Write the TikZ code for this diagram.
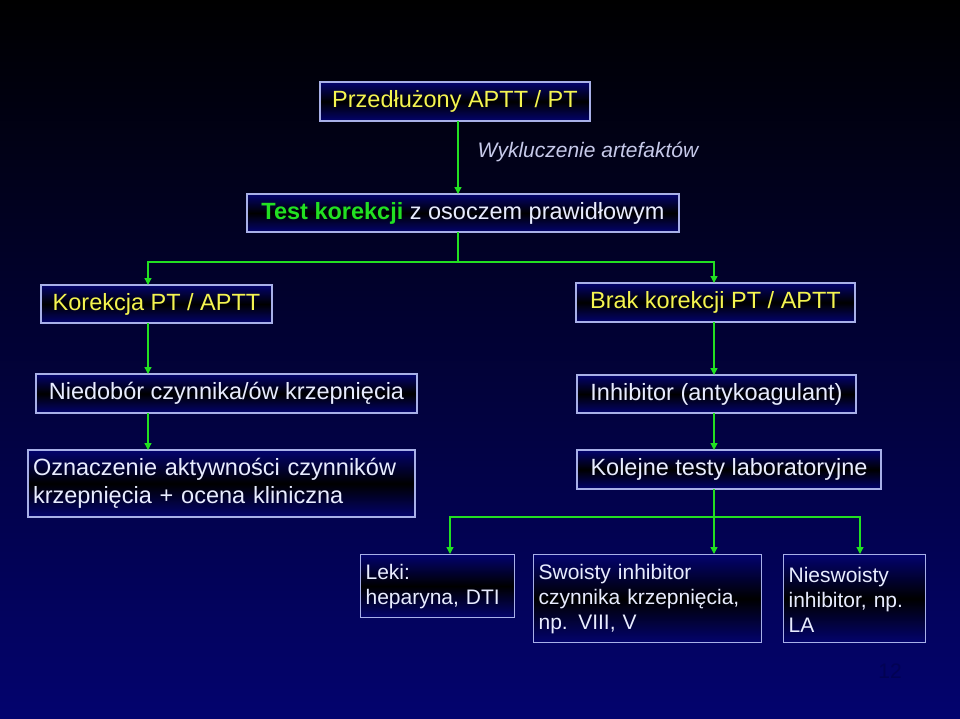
\documentclass[tikz,border=0pt]{standalone}
\usepackage{fontspec}
\setmainfont{Liberation Sans}
\usetikzlibrary{arrows.meta}
\definecolor{navy}{HTML}{03036E}
\definecolor{bord}{HTML}{A8B0E8}
\definecolor{yel}{HTML}{F4F450}
\definecolor{lt}{HTML}{E8ECFF}
\definecolor{grn}{HTML}{22E022}
\tikzset{
 bx/.style={draw=bord,line width=1.2pt,top color=navy,bottom color=navy,middle color=black,inner sep=0pt,font=\fontsize{23.5}{28}\selectfont},
 sm/.style={align=left,font=\fontsize{21}{25}\selectfont,anchor=north west},
 con/.style={draw=grn,line width=1.3pt},
 arr/.style={con,-{Triangle[length=7pt,width=7pt]}}
}
\begin{document}
\begin{tikzpicture}[x=1pt,y=-1pt]
\shade[top color=black,bottom color=navy] (0,0) rectangle (960,718);
\useasboundingbox (0,0) rectangle (960,718);
\node[bx,minimum width=270,minimum height=39,text=yel] (t) at (455,101.5) {Przedłużony APTT / PT};
\node[bx,minimum width=432,minimum height=38,text=lt] (k) at (463,213) {\textbf{\color{grn}Test korekcji} z osoczem prawidłowym};
\node[bx,minimum width=231,minimum height=38,text=yel] (a) at (156.5,304) {Korekcja PT / APTT};
\node[bx,minimum width=279,minimum height=39,text=yel] (b) at (715.5,302.5) {Brak korekcji PT / APTT};
\node[bx,minimum width=381,minimum height=39,text=lt] (n) at (226.5,393.5) {Niedobór czynnika/ów krzepnięcia};
\node[bx,minimum width=279,minimum height=38,text=lt] (i) at (716.5,394) {Inhibitor (antykoagulant)};
\node[bx,minimum width=387,minimum height=67,text=lt,align=left,text width=377] (o) at (221.5,483.5) {Oznaczenie aktywności czynników\\krzepnięcia + ocena kliniczna};
\node[bx,minimum width=304,minimum height=39,text=lt] (kl) at (729,469.5) {Kolejne testy laboratoryjne};
\node[bx,sm,minimum width=154,minimum height=63,text=lt,text width=144] (l) at (360,554) {\rule{0pt}{17pt}Leki:\\heparyna, DTI};
\node[bx,sm,minimum width=228,minimum height=88,text=lt,text width=218] (s) at (533,554) {\rule{0pt}{17pt}Swoisty inhibitor\\czynnika krzepnięcia,\\np. VIII, V};
\node[bx,sm,minimum width=142,minimum height=88,text=lt,text width=132] (w) at (783,554) {\rule{0pt}{17pt}Nieswoisty\\inhibitor, np.\\LA};
\node[text=lt!85!navy,font=\fontsize{21}{24}\selectfont\itshape] (lab) at (588,152) {Wykluczenie artefaktów};
\node[text=navy!75!black,font=\fontsize{21}{24}\selectfont] (pg) at (890,671) {12};
\coordinate (j1) at (458,262);
\coordinate (j2) at (714,517);
\draw[arr] (458,121) -- (458,194);
\draw[con] (458,232) -- (j1);
\draw[arr] (j1) -| (148,285);
\draw[arr] (j1) -| (714,283);
\draw[arr] (148,323) -- (148,374);
\draw[arr] (148,413) -- (148,450);
\draw[arr] (714,322) -- (714,375);
\draw[arr] (714,413) -- (714,450);
\draw[arr] (714,489) -- (714,554);
\draw[arr] (j2) -| (450,554);
\draw[arr] (j2) -| (860,554);
\end{tikzpicture}
\end{document}
